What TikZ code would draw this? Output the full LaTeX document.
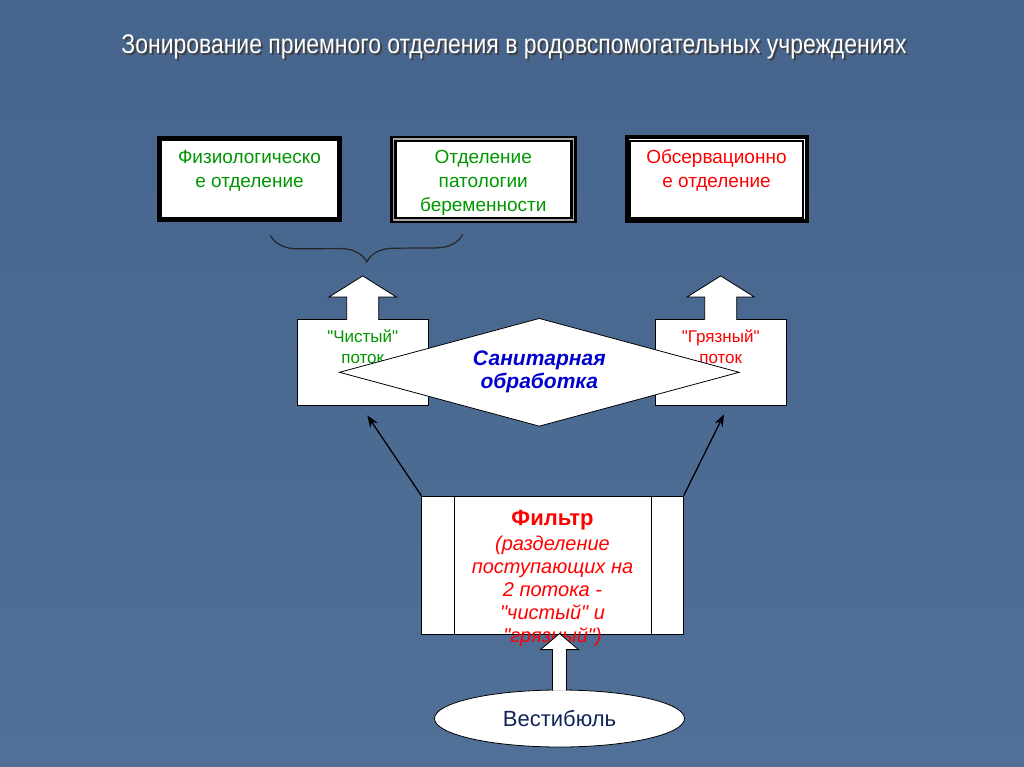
\documentclass[tikz,border=0pt]{standalone}
\usepackage{fontspec}
\setmainfont{Liberation Sans}[Ligatures=TeXOff]
\newfontfamily\titlefont[FakeStretch=0.85]{Liberation Sans}
\usetikzlibrary{positioning,shapes.geometric,arrows.meta,decorations.pathreplacing}

\definecolor{slatetop}{RGB}{70,100,140}
\definecolor{slatebot}{RGB}{80,112,152}
\definecolor{cleangreen}{RGB}{0,150,0}
\definecolor{dirtyred}{RGB}{255,0,0}
\definecolor{sanblue}{RGB}{0,0,204}
\definecolor{hallnavy}{RGB}{16,36,90}

\newcommand{\toplines}[1]{\begin{tabular}[t]{@{}c@{}}#1\end{tabular}}

\begin{document}
\begin{tikzpicture}[x=1pt,y=-1pt,>={Stealth[length=12pt,width=9pt]},node distance=50pt,
  heading/.style={font=\titlefont\fontsize{27}{32}\selectfont,inner sep=0pt},
  ward/.style={rectangle,fill=white,draw=black,minimum width=180pt,minimum height=81pt,
    inner sep=0pt,font=\fontsize{19}{24}\selectfont,text height=14pt,text depth=46pt},
  flowbox/.style={rectangle,fill=white,draw=black,line width=0.8pt,minimum width=131pt,minimum height=86.4pt,
    inner sep=0pt,font=\fontsize{17}{21}\selectfont,text height=13pt,text depth=54pt},
  blockup/.style={fill=white,draw=black,line width=0.8pt,line join=miter},
  sanitary/.style={diamond,aspect=3.7,fill=white,draw=black,line width=0.8pt,minimum width=400pt,minimum height=108pt,
    inner sep=0pt,align=center,text=sanblue,font=\fontsize{21}{23}\selectfont\bfseries\itshape},
  sieve/.style={rectangle,fill=white,draw=black,line width=0.8pt,minimum width=261.6pt,minimum height=138pt,
    inner sep=0pt,text=dirtyred,font=\fontsize{20}{23}\selectfont\itshape,text height=17pt,text depth=96pt},
  hall/.style={ellipse,fill=white,draw=black,line width=0.8pt,minimum width=250pt,minimum height=57pt,
    inner sep=0pt,text=hallnavy,font=\fontsize{22}{26}\selectfont},
  thin/.style={->,line width=1.3pt,black}]

\path[use as bounding box,top color=slatetop,bottom color=slatebot] (0,0) rectangle (1024,767);

\node[heading,text=black!75] (titleshade) at (516,49) {Зонирование приемного отделения в родовспомогательных учреждениях};
\node[heading,text=white] (title) at (514,47) {Зонирование приемного отделения в родовспомогательных учреждениях};

\node[ward,line width=5pt,text=cleangreen] (physio) at (249.5,179.5) {\toplines{Физиологическо\\е отделение}};
\node[ward,line width=2.5pt,double=gray!70,double distance=1.5pt,text=cleangreen] (patho) [right=of physio] {\toplines{Отделение\\патологии\\беременности}};
\node[ward,line width=4pt,minimum height=84pt,text=dirtyred] (observ) [right=of patho] {\toplines{Обсервационно\\е отделение}};
\draw[line width=1.8pt] ([shift={(5.5,5.5)}]observ.north west) rectangle ([shift={(-5.5,-5.5)}]observ.south east);

\draw[decorate,decoration={brace,mirror,amplitude=27pt},line width=1.2pt,black!85] ([shift={(21,13)}]physio.south) -- ([shift={(-20.5,13)}]patho.south);

\node[flowbox,text=cleangreen] (clean) at (362.7,362.5) {\toplines{"Чистый"\\поток}};
\node[flowbox,text=dirtyred] (dirty) at (720.7,362.5) {\toplines{"Грязный"\\поток}};
\draw[blockup] ([shift={(-16,1)}]clean.north) -- ++(0,-23) -- ++(-17.5,0) -- ++(33.5,-21) -- ++(33.5,21) -- ++(-17.5,0) -- ++(0,23);
\draw[blockup] ([shift={(-16,1)}]dirty.north) -- ++(0,-23) -- ++(-17.5,0) -- ++(33.5,-21) -- ++(33.5,21) -- ++(-17.5,0) -- ++(0,23);

\node[sanitary] (sanit) at (539.3,372.3) {Санитарная\\обработка};

\node[sieve] (filter) at (552.5,565) {\toplines{{\fontsize{22}{25}\selectfont\bfseries\upshape Фильтр}\\[2pt](разделение\\поступающих на\\2 потока -\\"чистый" и\\"грязный")}};
\draw[line width=0.8pt] ([xshift=32.6pt]filter.north west) -- ([xshift=32.6pt]filter.south west);
\draw[line width=0.8pt] ([xshift=-32.6pt]filter.north east) -- ([xshift=-32.6pt]filter.south east);

\draw[thin] (filter.north west) -- ([shift={(4.6,9.3)}]clean.south);
\draw[thin] (filter.north east) -- ([shift={(3.3,8.3)}]dirty.south);

\node[hall] (hall) at (559.5,718.5) {Вестибюль};
\draw[blockup] ([shift={(-7,1)}]hall.north) -- ++(0,-41) -- ++(-12,0) -- ++(19,-16) -- ++(19,16) -- ++(-12,0) -- ++(0,41);

\end{tikzpicture}
\end{document}
